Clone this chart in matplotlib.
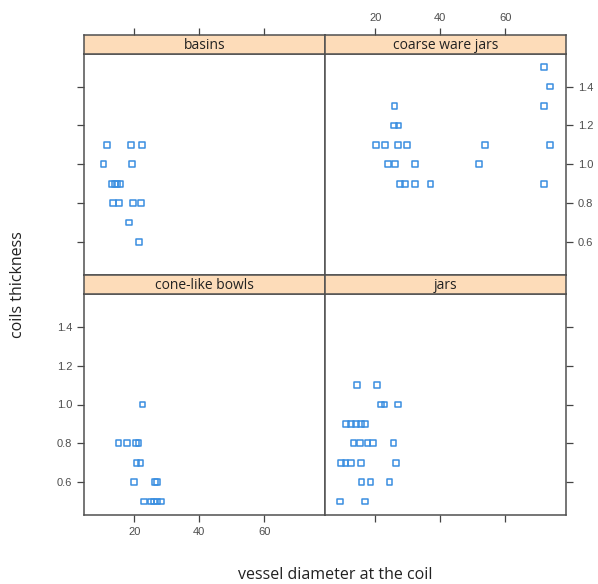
import numpy as np
import matplotlib.pyplot as plt

# vessel diameter (x) and coil thickness (y) per vessel type
basins_x = [11.5, 18.9, 22.4, 10.5, 19.3, 13.2, 14.0, 14.7, 15.7, 13.5, 15.2, 19.5, 22.0, 18.4, 21.4]
basins_y = [1.1, 1.1, 1.1, 1.0, 1.0, 0.9, 0.9, 0.9, 0.9, 0.8, 0.8, 0.8, 0.8, 0.7, 0.6]

coarse_x = [72.0, 73.8, 25.9, 72.0, 25.8, 27.1, 20.1, 23.0, 27.0, 29.8, 53.8, 73.8,
            23.9, 26.1, 32.1, 52.0, 27.7, 29.1, 32.1, 37.0, 72.0]
coarse_y = [1.5, 1.4, 1.3, 1.3, 1.2, 1.2, 1.1, 1.1, 1.1, 1.1, 1.1, 1.1,
            1.0, 1.0, 1.0, 1.0, 0.9, 0.9, 0.9, 0.9, 0.9]

bowls_x = [22.5, 15.1, 17.8, 20.5, 21.3, 20.7, 21.9, 20.0, 26.3, 26.9, 23.0, 25.2, 26.1, 26.9, 28.1]
bowls_y = [1.0, 0.8, 0.8, 0.8, 0.8, 0.7, 0.7, 0.6, 0.6, 0.6, 0.5, 0.5, 0.5, 0.5, 0.5]

jars_x = [14.4, 20.5, 21.8, 22.8, 27.0, 11.0, 12.5, 14.1, 15.6, 16.8, 13.3, 15.2, 17.6, 19.3, 25.6,
          9.4, 10.8, 12.5, 15.6, 26.4, 15.7, 18.5, 24.4, 9.2, 16.9]
jars_y = [1.1, 1.1, 1.0, 1.0, 1.0, 0.9, 0.9, 0.9, 0.9, 0.9, 0.8, 0.8, 0.8, 0.8, 0.8,
          0.7, 0.7, 0.7, 0.7, 0.7, 0.6, 0.6, 0.6, 0.5, 0.5]

x_ticks = [20, 40, 60]
y_ticks = [0.6, 0.8, 1.0, 1.2, 1.4]

W, H = 598, 584
fig = plt.figure(figsize=(W / 100, H / 100), dpi=100)
plt.rcParams['font.family'] = ['Liberation Sans', 'DejaVu Sans']

frame_col = '#505050'
tick_col = '#444444'


def box(x0, y0, x1, y1):
    return [x0 / W, 1 - y1 / H, (x1 - x0) / W, (y1 - y0) / H]


panels = [
    # name, xs, ys, (x0, x1), (strip top, panel top, panel bottom), left, right, top, bottom
    ('basins', basins_x, basins_y, (84, 325), (35, 53.5, 275), 'ticks', None, 'ticks', None),
    ('coarse ware jars', coarse_x, coarse_y, (325, 566), (35, 53.5, 275), None, 'labels', 'labels', None),
    ('cone-like bowls', bowls_x, bowls_y, (84, 325), (275, 294, 515), 'labels', None, None, 'labels'),
    ('jars', jars_x, jars_y, (325, 566), (275, 294, 515), None, 'ticks', None, 'ticks'),
]

for name, xs, ys, (x0, x1), (s0, p0, p1), left, right, top, bottom in panels:
    ax = fig.add_axes(box(x0, p0, x1, p1))
    sx = fig.add_axes(box(x0, s0, x1, p0), sharex=ax)
    ax.scatter(xs, ys, marker='s', s=17, facecolors='none', edgecolors='#3a8ee0', linewidths=1.1)
    ax.set_xlim(4.5, 78.7)
    ax.set_ylim(0.43, 1.57)

    sx.set_facecolor('#fddcb9')
    sx.set_yticks([])
    sx.text(0.5, 0.45, name, transform=sx.transAxes, ha='center', va='center',
            fontsize=10, family=['Open Sans', 'DejaVu Sans'], color='#222222')

    for a in (ax, sx):
        for sp in a.spines.values():
            sp.set_color(frame_col)
            sp.set_linewidth(1.1)

    ax.set_xticks(x_ticks)
    ax.set_yticks(y_ticks)
    ax.tick_params(direction='out', length=5, width=0.9, color=tick_col,
                   labelsize=8, labelcolor='#4d4d4d',
                   left=left is not None, labelleft=left == 'labels',
                   right=right is not None, labelright=right == 'labels',
                   bottom=bottom is not None, labelbottom=bottom == 'labels',
                   top=False, labeltop=False)
    sx.tick_params(direction='out', length=5, width=0.9, color=tick_col,
                   labelsize=8, labelcolor='#4d4d4d',
                   bottom=False, labelbottom=False,
                   top=top is not None, labeltop=top == 'labels')

fig.text(335 / W, 1 - 575 / H, 'vessel diameter at the coil', ha='center', va='center',
         fontsize=11.5, family=['Open Sans', 'DejaVu Sans'], color='#222222')
fig.text(18 / W, 1 - 285 / H, 'coils thickness', ha='center', va='center', rotation=90,
         fontsize=11.5, family=['Open Sans', 'DejaVu Sans'], color='#222222')

fig.savefig('out.png', dpi=100)
